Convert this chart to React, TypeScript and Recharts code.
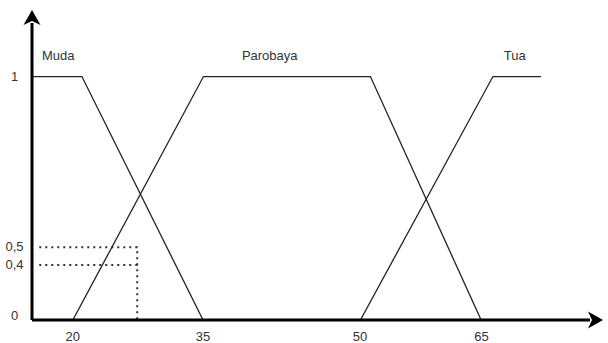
import { LineChart, Line, XAxis, YAxis, ReferenceDot } from "recharts";

// membership curves, x (its spacing is not to scale)
const muda = [
  { x: 15.5, y: 1 },
  { x: 21.0, y: 1 },
  { x: 34.35, y: 0 },
];
const parobaya = [
  { x: 20, y: 0 },
  { x: 34.4, y: 1 },
  { x: 52.8, y: 1 },
  { x: 65, y: 0 },
];
const tua = [
  { x: 51.7, y: 0 },
  { x: 66.3, y: 1 },
  { x: 71.6, y: 1 },
];

// dotted guides
const guideHigh = [
  { x: 16.3, y: 0.299 },
  { x: 27.1, y: 0.299 },
  { x: 27.1, y: 0 },
];
const guideLow = [
  { x: 16.3, y: 0.226 },
  { x: 27.1, y: 0.226 },
];

const xTicks = [20, 34.35, 51.65, 65.05];
const xTickLabels = ["20", "35", "50", "65"];
const yTicks = [0.02, 0.228, 0.304, 1];
const yTickLabels = ["0", "0,4", "0,5", "1"];

const setLabels = [
  { name: "Muda", x: 18.4, y: 1.089 },
  { name: "Parobaya", x: 41.7, y: 1.089 },
  { name: "Tua", x: 68.7, y: 1.089 },
];

const font = "'Liberation Sans', Arial, sans-serif";
const textColor = "#333";

export default function App() {
  return (
    <div style={{ position: "absolute", left: 0, top: 0, width: 608, height: 343, background: "#fff" }}>
      <svg width="0" height="0" style={{ position: "absolute" }}>
        <defs>
          <marker
            id="arrowHead"
            markerUnits="userSpaceOnUse"
            markerWidth="16"
            markerHeight="18"
            viewBox="0 0 16 18"
            refX="2"
            refY="9"
            orient="auto-start-reverse"
          >
            <path d="M0,0.5 L15,9 L0,17.5 L4,9 Z" fill="#000" />
          </marker>
        </defs>
      </svg>
      <LineChart width={608} height={343} margin={{ top: 23, right: 18, bottom: 0, left: 0 }}>
        <XAxis
          dataKey="x"
          type="number"
          domain={[15.5, 77]}
          allowDataOverflow
          ticks={xTicks}
          interval={0}
          tickFormatter={(_v: number, i: number) => xTickLabels[i]}
          tickLine={false}
          tickMargin={6}
          height={23}
          tick={{ fill: textColor, fontSize: 13, fontFamily: font }}
          axisLine={{ stroke: "#000", strokeWidth: 3, markerEnd: "url(#arrowHead)" }}
        />
        <YAxis
          type="number"
          domain={[0, 1.22]}
          allowDataOverflow
          ticks={yTicks}
          interval={0}
          tickFormatter={(_v: number, i: number) => yTickLabels[i]}
          tickLine={false}
          tickMargin={11.5}
          width={32}
          tick={{ fill: textColor, fontSize: 13, fontFamily: font, textAnchor: "middle" }}
          axisLine={{ stroke: "#000", strokeWidth: 3, markerStart: "url(#arrowHead)" }}
        />
        <Line data={guideHigh} dataKey="y" stroke="#333" strokeWidth={2} strokeDasharray="2 4" dot={false} activeDot={false} isAnimationActive={false} />
        <Line data={guideLow} dataKey="y" stroke="#333" strokeWidth={2} strokeDasharray="2 4" dot={false} activeDot={false} isAnimationActive={false} />
        <Line data={muda} dataKey="y" stroke="#222" strokeWidth={1.3} dot={false} activeDot={false} isAnimationActive={false} />
        <Line data={parobaya} dataKey="y" stroke="#222" strokeWidth={1.3} dot={false} activeDot={false} isAnimationActive={false} />
        <Line data={tua} dataKey="y" stroke="#222" strokeWidth={1.3} dot={false} activeDot={false} isAnimationActive={false} />
        {setLabels.map((s) => (
          <ReferenceDot
            key={s.name}
            x={s.x}
            y={s.y}
            r={0}
            fill="none"
            stroke="none"
            label={{ value: s.name, position: "center", fill: textColor, fontSize: 13, fontFamily: font }}
          />
        ))}
      </LineChart>
    </div>
  );
}
